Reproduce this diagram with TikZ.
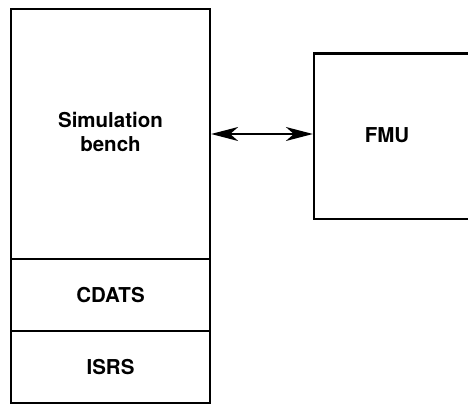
\documentclass[tikz,border=0pt]{standalone}
\usepackage{fontspec}
\setmainfont{TeX Gyre Heros}
\usetikzlibrary{arrows.meta}
\tikzset{
  blk/.style={draw=black, line width=2.3pt, rectangle, inner sep=0pt, minimum width=199pt},
  lbl/.style={font=\fontsize{20.5}{24.4}\selectfont\bfseries, align=center, inner sep=0pt},
  conn/.style={line width=1.3pt, {Stealth[length=27pt,width=14pt,inset=8pt]}-{Stealth[length=27pt,width=14pt,inset=8pt]}}
}
\begin{document}
\begin{tikzpicture}[x=1pt,y=1pt]
\useasboundingbox (0,0) rectangle (468,405);
\begin{scope}
\clip (0,0) rectangle (468,405);
\node[blk, minimum height=250pt] (sim) at (110.5,271) {};
\node[blk, minimum height=72pt] (cdats) at (110.5,110) {};
\node[blk, minimum height=72pt] (isrs) at (110.5,38) {};
\node[blk, minimum width=161pt, minimum height=165.5pt] (fmu) at (394.5,268.75) {};
\end{scope}
\node[lbl] (simtext) at (110.5,273) {Simulation\\bench};
\node[lbl] (cdatstext) at (110.5,110) {CDATS};
\node[lbl] (isrstext) at (110.5,38) {ISRS};
\node[lbl] (fmutext) at (387,269.5) {FMU};
\draw[conn] (sim.east) -- (fmu.west |- sim.east);
\end{tikzpicture}
\end{document}
